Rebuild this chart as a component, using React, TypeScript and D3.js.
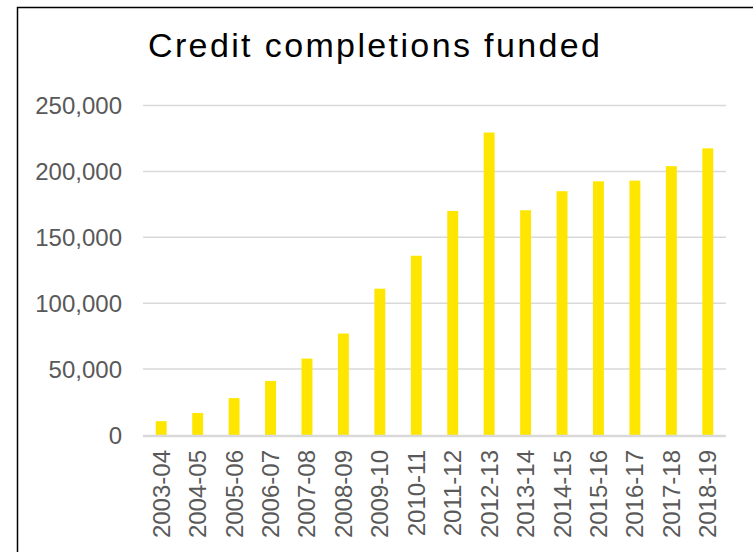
import { useEffect, useRef } from 'react';
import * as d3 from 'd3';

const years = [
  '2003-04', '2004-05', '2005-06', '2006-07', '2007-08', '2008-09', '2009-10', '2010-11',
  '2011-12', '2012-13', '2013-14', '2014-15', '2015-16', '2016-17', '2017-18', '2018-19',
];
const completions = [
  10500, 16700, 28000, 41000, 58000, 77000, 111000, 136000,
  170000, 229500, 170500, 185000, 192500, 193000, 204000, 217500,
];
const yTicks = [0, 50000, 100000, 150000, 200000, 250000];

export default function App() {
  const svgRef = useRef<SVGSVGElement>(null);

  useEffect(() => {
    if (!svgRef.current) return;
    const svg = d3.select(svgRef.current);
    svg.selectAll('*').remove();

    const width = 753;
    const height = 552;
    const left = 143, right = 726, top = 105.5, bottom = 435;
    const font = '"Liberation Sans", Arial, sans-serif';

    svg.attr('width', width).attr('height', height);

    svg.append('rect')
      .attr('x', 0).attr('y', 0).attr('width', width).attr('height', height)
      .attr('fill', 'white');

    // frame
    svg.append('rect')
      .attr('x', 17.5).attr('y', 7.5)
      .attr('width', width + 10).attr('height', height + 10)
      .attr('fill', 'none')
      .attr('stroke', '#000')
      .attr('stroke-width', 1.5);

    const x = d3.scaleBand()
      .domain(years)
      .range([left, right])
      .paddingInner(0.7)
      .paddingOuter(0.35);

    const y = d3.scaleLinear()
      .domain([0, 250000])
      .range([bottom, top]);

    // gridlines
    svg.append('g')
      .selectAll('line')
      .data(yTicks.filter(t => t > 0))
      .enter()
      .append('line')
      .attr('x1', left).attr('x2', right)
      .attr('y1', d => y(d)).attr('y2', d => y(d))
      .attr('stroke', '#d9d9d9')
      .attr('stroke-width', 1.5);

    // y labels
    const fmt = d3.format(',');
    svg.append('g')
      .selectAll('text')
      .data(yTicks)
      .enter()
      .append('text')
      .attr('x', 122)
      .attr('y', d => y(d) + 8.5)
      .attr('text-anchor', 'end')
      .attr('fill', '#595959')
      .attr('font-family', font)
      .attr('font-size', '24px')
      .text(d => fmt(d));

    // bars
    svg.append('g')
      .selectAll('rect')
      .data(completions)
      .enter()
      .append('rect')
      .attr('x', (d, i) => x(years[i]) || 0)
      .attr('y', d => y(d))
      .attr('width', x.bandwidth())
      .attr('height', d => bottom - y(d))
      .attr('fill', '#ffe600');

    // baseline
    svg.append('line')
      .attr('x1', left).attr('x2', right)
      .attr('y1', bottom + 1).attr('y2', bottom + 1)
      .attr('stroke', '#d9d9d9')
      .attr('stroke-width', 2.5);

    // x labels
    svg.append('g')
      .selectAll('text')
      .data(years)
      .enter()
      .append('text')
      .attr('transform', d => `translate(${(x(d) || 0) + x.bandwidth() / 2 + 8.5},450) rotate(-90)`)
      .attr('text-anchor', 'end')
      .attr('fill', '#595959')
      .attr('font-family', font)
      .attr('font-size', '24px')
      .text(d => d);

    // title
    svg.append('text')
      .attr('x', 148)
      .attr('y', 57)
      .attr('fill', '#000')
      .attr('font-family', font)
      .attr('font-size', '34px')
      .attr('textLength', 452)
      .attr('lengthAdjust', 'spacing')
      .text('Credit completions funded');
  }, []);

  return (
    <div style={{ position: 'fixed', left: 0, top: 0 }}>
      <svg ref={svgRef} style={{ display: 'block' }}></svg>
    </div>
  );
}
